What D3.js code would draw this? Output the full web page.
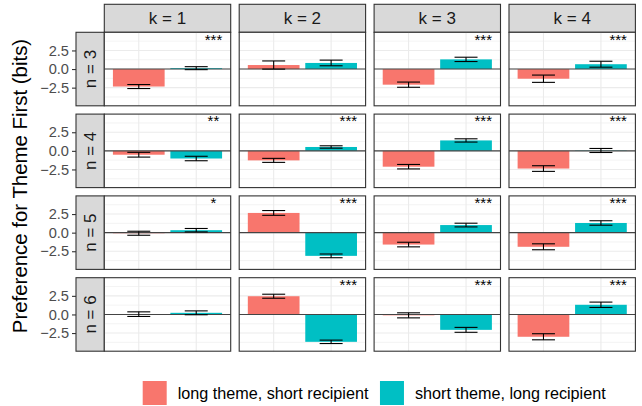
<!DOCTYPE html>
<html><head><meta charset="utf-8">
<script src="https://cdn.jsdelivr.net/npm/d3@7"></script>
<style>html,body{margin:0;padding:0;background:#fff;}svg{display:block;font-family:"Liberation Sans",Arial,Helvetica,sans-serif;}</style>
</head><body>
<svg id="c" width="642" height="406"></svg>
<script>
const ks = [1, 2, 3, 4];
const ns = [3, 4, 5, 6];
const groups = ["long theme, short recipient", "short theme, long recipient"];
const colors = ["#F8766D", "#00BFC4"];
const yTicks = [-2.5, 0, 2.5];
const yMinor = [-3.75, -1.25, 1.25, 3.75];
// rows = n (3..6), columns = k (1..4)
const meanLong = [
  [-2.35, 0.54, -2.1, -1.3],
  [-0.52, -1.28, -2.13, -2.38],
  [-0.08, 2.65, -1.6, -1.9],
  [0.04, 2.45, -0.12, -3.0]
];
const errLong = [
  [0.27, 0.55, 0.35, 0.49],
  [0.32, 0.27, 0.3, 0.38],
  [0.27, 0.32, 0.31, 0.4],
  [0.31, 0.27, 0.34, 0.41]
];
const meanShort = [
  [0.12, 0.82, 1.3, 0.65],
  [-1.03, 0.52, 1.4, 0.05],
  [0.33, -3.12, 1.02, 1.3],
  [0.22, -3.68, -2.07, 1.3]
];
const errShort = [
  [0.2, 0.38, 0.29, 0.4],
  [0.3, 0.16, 0.22, 0.27],
  [0.23, 0.25, 0.25, 0.3],
  [0.26, 0.23, 0.33, 0.36]
];
const stars = [
  ["***", "", "***", "***"],
  ["**", "***", "***", "***"],
  ["*", "***", "***", "***"],
  ["", "***", "***", "***"]
];

const svg = d3.select("#c");
const colBand = d3.scaleBand().domain(ks).range([104.3, 635.4]).paddingInner(0.063).paddingOuter(0);
const rowBand = d3.scaleBand().domain(ns).range([32.3, 351.2]).paddingInner(0.1015).paddingOuter(0);
const stripH = 28, stripW = 28.3;
const pw = colBand.bandwidth(), ph = rowBand.bandwidth();
const x = d3.scaleLinear().domain([0.4, 2.6]).range([0, pw]);
const y = d3.scaleLinear().domain([-4.94, 4.94]).range([ph, 0]);

// column strips
ks.forEach(k => {
  const g = svg.append("g").attr("transform", `translate(${colBand(k)},${rowBand(ns[0]) - stripH})`);
  g.append("rect").attr("width", pw).attr("height", stripH).attr("fill", "#d9d9d9").attr("stroke", "#333").attr("stroke-width", 1.1);
  g.append("text").attr("x", pw / 2).attr("y", stripH / 2 + 6.1).attr("text-anchor", "middle")
    .attr("font-size", 17).attr("fill", "#1a1a1a").text(`k = ${k}`);
});

ns.forEach((n, ri) => {
  const top = rowBand(n);
  // row strip
  const sg = svg.append("g").attr("transform", `translate(${colBand(ks[0]) - stripW},${top})`);
  sg.append("rect").attr("width", stripW).attr("height", ph).attr("fill", "#d9d9d9").attr("stroke", "#333").attr("stroke-width", 1.1);
  sg.append("text").attr("transform", `translate(${stripW / 2 + 6.1},${ph / 2}) rotate(-90)`).attr("text-anchor", "middle")
    .attr("font-size", 17).attr("fill", "#1a1a1a").text(`n = ${n}`);
  // y axis
  const ax = svg.append("g").attr("transform", `translate(${colBand(ks[0]) - stripW},${top})`)
    .call(d3.axisLeft(y).tickValues(yTicks).tickFormat(d => d3.format(".1f")(d).replace("-", "\u2212")).tickSize(4).tickPadding(3));
  ax.select(".domain").remove();
  ax.selectAll(".tick line").attr("stroke", "#333").attr("stroke-width", 1.1);
  ax.selectAll(".tick text").attr("fill", "#4d4d4d").attr("font-size", 14.6).attr("font-family", null);

  ks.forEach((k, ci) => {
    const g = svg.append("g").attr("transform", `translate(${colBand(k)},${top})`);
    g.append("rect").attr("width", pw).attr("height", ph).attr("fill", "#fff");
    g.selectAll("line.minor").data(yMinor).join("line").attr("x1", 0).attr("x2", pw)
      .attr("y1", d => y(d)).attr("y2", d => y(d)).attr("stroke", "#ebebeb").attr("stroke-width", 0.6);
    g.selectAll("line.major").data(yTicks).join("line").attr("x1", 0).attr("x2", pw)
      .attr("y1", d => y(d)).attr("y2", d => y(d)).attr("stroke", "#ebebeb").attr("stroke-width", 1.1);
    g.selectAll("line.vmajor").data([1, 2]).join("line").attr("y1", 0).attr("y2", ph)
      .attr("x1", d => x(d)).attr("x2", d => x(d)).attr("stroke", "#ebebeb").attr("stroke-width", 1.1);
    const vals = [
      {pos: 1, m: meanLong[ri][ci], e: errLong[ri][ci], c: colors[0]},
      {pos: 2, m: meanShort[ri][ci], e: errShort[ri][ci], c: colors[1]}
    ];
    g.selectAll("rect.bar").data(vals).join("rect")
      .attr("x", d => x(d.pos - 0.45)).attr("width", d => x(d.pos + 0.45) - x(d.pos - 0.45))
      .attr("y", d => y(Math.max(0, d.m))).attr("height", d => Math.abs(y(d.m) - y(0)))
      .attr("fill", d => d.c);
    g.append("line").attr("x1", 0).attr("x2", pw).attr("y1", y(0)).attr("y2", y(0))
      .attr("stroke", "#444").attr("stroke-width", 1.1);
    vals.forEach(d => {
      const lo = y(d.m - d.e), hi = y(d.m + d.e);
      g.append("line").attr("x1", x(d.pos)).attr("x2", x(d.pos)).attr("y1", lo).attr("y2", hi).attr("stroke", "#000").attr("stroke-width", 1.1);
      [lo, hi].forEach(yy => g.append("line").attr("x1", x(d.pos - 0.2)).attr("x2", x(d.pos + 0.2))
        .attr("y1", yy).attr("y2", yy).attr("stroke", "#000").attr("stroke-width", 1.1));
    });
    g.append("text").attr("x", x(2.3)).attr("y", y(3.3)).attr("text-anchor", "middle")
      .attr("font-size", 15).attr("fill", "#000").text(stars[ri][ci]);
    g.append("rect").attr("width", pw).attr("height", ph).attr("fill", "none").attr("stroke", "#333").attr("stroke-width", 1.1);
  });
});

// y title
svg.append("text").attr("transform", `translate(26.8,186) rotate(-90)`).attr("text-anchor", "middle")
  .attr("font-size", 20.4).attr("fill", "#000").text("Preference for Theme First (bits)");

// legend
const lg = svg.append("g");
let lx = 142.7;
groups.forEach((name, i) => {
  lg.append("rect").attr("x", lx).attr("y", 381).attr("width", 24).attr("height", 24).attr("fill", colors[i]);
  const t = lg.append("text").attr("x", lx + 35).attr("y", 393 + 5.8).attr("font-size", 16.2).attr("fill", "#000").text(name);
  lx = lx + 35 + t.node().getComputedTextLength() + 11.5;
});
</script>
</body></html>
